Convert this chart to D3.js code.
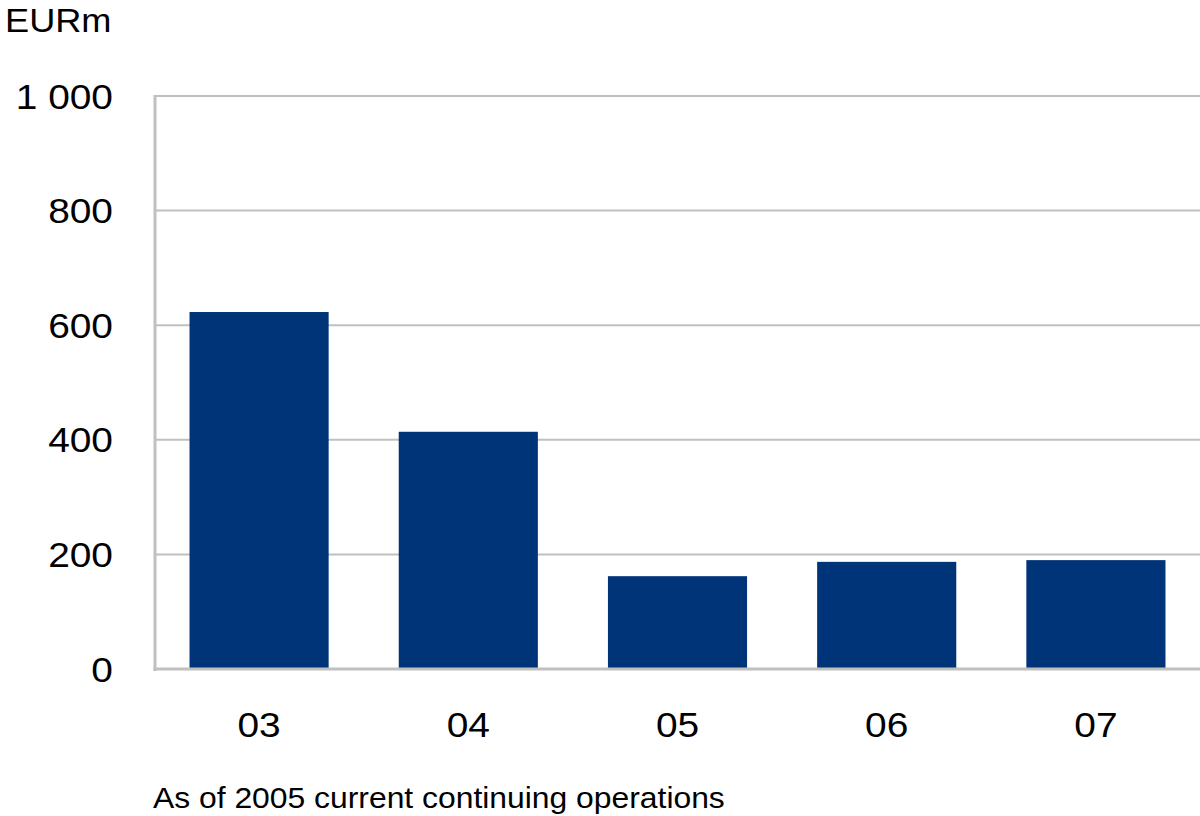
<!DOCTYPE html>
<html><head><meta charset="utf-8">
<script src="https://cdn.jsdelivr.net/npm/d3@7"></script>
<style>body{margin:0;background:#fff}svg{display:block}text{font-family:"Liberation Sans",Arial,sans-serif;fill:#000}</style>
</head><body><svg id="c" width="1200" height="816"></svg>
<script>
const categories = ["03","04","05","06","07"];
const values = [623, 414, 162, 187, 190];
const yTicks = [0, 200, 400, 600, 800, 1000];
const tickLabels = ["0","200","400","600","800","1 000"];
const unitLabel = "EURm";
const footnote = "As of 2005 current continuing operations";

(function(){
const svg = d3.select("#c");
const mLeft = 155, mRight = 1200, mTop = 96, mBottom = 669;
const sx = 1.08;
const x = d3.scaleBand().domain(categories).range([mLeft, mRight]).paddingInner(0.335).paddingOuter(0.165);
const y = d3.scaleLinear().domain([0, 1000]).range([mBottom, mTop]);

svg.append("g").selectAll("line").data(yTicks.filter(d => d > 0)).join("line")
  .attr("x1", mLeft).attr("x2", mRight).attr("y1", d => y(d)).attr("y2", d => y(d))
  .attr("stroke", "#c0c0c0").attr("stroke-width", 2);

svg.append("g").selectAll("rect").data(values).join("rect")
  .attr("x", (d, i) => x(categories[i])).attr("width", x.bandwidth())
  .attr("y", d => y(d)).attr("height", d => y(0) - y(d))
  .attr("fill", "#003478");

svg.append("line").attr("x1", mLeft).attr("x2", mLeft).attr("y1", mTop - 1).attr("y2", mBottom + 2)
  .attr("stroke", "#c0c0c0").attr("stroke-width", 3);
svg.append("line").attr("x1", mLeft - 1.5).attr("x2", mRight).attr("y1", mBottom).attr("y2", mBottom)
  .attr("stroke", "#c0c0c0").attr("stroke-width", 3);

svg.append("g").selectAll("text").data(yTicks).join("text")
  .attr("transform", d => `translate(113,${y(d) + 12.6}) scale(${sx},1)`).attr("text-anchor", "end")
  .style("font-size", "36px").text((d, i) => tickLabels[i]);

svg.append("g").selectAll("text").data(categories).join("text")
  .attr("transform", d => `translate(${x(d) + x.bandwidth() / 2},737) scale(${sx},1)`).attr("text-anchor", "middle")
  .style("font-size", "36px").text(d => d);

svg.append("text").attr("transform", `translate(5,32) scale(${sx},1)`).style("font-size", "33.5px").text(unitLabel);
svg.append("text").attr("transform", `translate(153,808) scale(${sx},1)`).style("font-size", "29.5px").text(footnote);
})();
</script></body></html>
